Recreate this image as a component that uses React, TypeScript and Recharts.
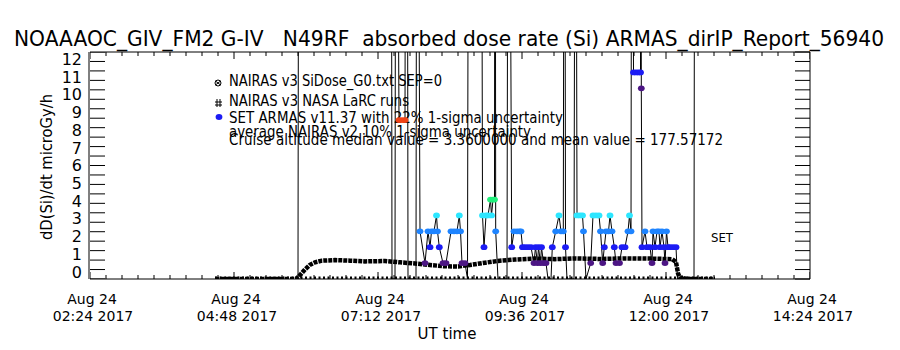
import React from "react";
import { ComposedChart, Line, Scatter, XAxis, YAxis } from "recharts";

const FONT = "'DejaVu Sans', sans-serif";

// x axis is UT minutes of the day, 02:24 .. 14:24
const majorTicks = [144, 288, 432, 576, 720, 864];
const tickDay = ["Aug 24", "Aug 24", "Aug 24", "Aug 24", "Aug 24", "Aug 24"];
const tickTime = ["02:24 2017", "04:48 2017", "07:12 2017", "09:36 2017", "12:00 2017", "14:24 2017"];
const minorTicks = Array.from({ length: 46 }, (_, i) => 144 + i * 16);
const doseTicks = Array.from({ length: 25 }, (_, i) => i * 0.5);
const doseLabels = [0, 1, 2, 3, 4, 5, 6, 7, 8, 9, 10, 11, 12];

// NAIRAS v3 SiDose_G0 model curve
const nairasTimes = [269, 299, 329, 350, 354, 359, 364, 369, 376, 389, 404, 419, 439, 454, 469, 484, 499, 512, 524, 539, 554, 569, 589, 609, 629, 654, 679, 704, 726, 730, 732, 734, 744, 769];
const nairasDose = [0, 0, 0, 0, 0.2, 0.5, 0.75, 0.88, 0.97, 1.0, 0.97, 0.93, 0.95, 0.88, 0.82, 0.74, 0.67, 0.66, 0.74, 0.86, 0.97, 1.03, 1.08, 1.05, 1.09, 1.06, 1.09, 1.08, 1.05, 0.9, 0.3, 0.05, 0, 0];

// NAIRAS v3 NASA LaRC runs
const larcTimes = [269, 769];
const larcDose = [0, 0];

// SET ARMAS samples (values above 12 run off the top of the plot)
const armasTimes = [352, 353, 445, 446, 449, 450, 453, 456, 459, 460, 461, 462, 470, 471, 474, 479, 482, 484, 485.5, 488, 490.5, 491.5, 493.3, 497, 500, 505, 508, 511, 513.3, 514.5, 516, 519, 521.5, 523, 535, 536.5, 538, 540, 542, 544.5, 545.5, 547, 548.5, 549, 549.7, 552, 561, 562.5, 565.7, 568, 571, 573.5, 575, 576.5, 579, 582, 585, 588, 589.5, 591.5, 592.5, 594.5, 595.5, 597.5, 600, 602, 605, 606.3, 609.7, 613, 615, 617.3, 618.5, 619.5, 621, 628, 629.5, 631, 634, 636.5, 637.5, 640, 644.7, 647, 650, 653, 654.5, 656.7, 658.3, 660, 662.5, 664, 666, 668.3, 670, 673.5, 676, 679, 682, 683.5, 685, 686, 687.5, 690, 692.5, 694.5, 695, 695.3, 696, 699, 701, 704, 706, 707, 709, 711, 713, 714, 716, 718, 719, 720.5, 722, 724, 727, 730, 731.5, 748, 749];
const armasDose = [0, 40, 40, 0, 0, 40, 8.4, 8.4, 8.4, 40, 40, 0, 0, 40, 2.52, 0.84, 2.52, 1.68, 2.52, 2.52, 3.36, 2.52, 1.68, 0.84, 0.84, 2.52, 2.52, 2.52, 3.36, 2.52, 0.84, 0.84, 0, 40, 40, 3.36, 1.68, 3.36, 3.36, 4.2, 3.36, 4.2, 4.2, 40, 2.52, 0, 0, 40, 1.68, 2.52, 2.52, 2.52, 2.52, 1.68, 1.68, 1.68, 1.68, 0.84, 1.68, 0.84, 1.68, 0.84, 1.68, 0.84, 0.84, 0, 0, 1.68, 2.52, 3.36, 2.52, 2.52, 40, 1.68, 0, 0, 40, 3.36, 3.36, 3.36, 2.52, 0, 0.84, 3.36, 3.36, 3.36, 2.52, 0.84, 1.68, 2.52, 2.52, 3.36, 2.52, 1.68, 0.84, 0.84, 1.68, 1.68, 2.52, 3.36, 2.52, 40, 10.92, 10.92, 10.92, 10.92, 40, 10.08, 1.68, 2.52, 1.68, 1.68, 0.84, 2.52, 1.68, 2.52, 2.52, 1.68, 2.52, 1.68, 0.84, 2.52, 1.68, 1.68, 1.68, 1.68, 0, 0, 40];
const armasLevels = [0.84, 1.68, 2.52, 3.36, 4.2, 8.4, 10.08, 10.92];
const armasColors = ["#4c1684", "#1c1cf4", "#1e84ff", "#2ce6ff", "#22f07c", "#f04418", "#4c1684", "#1c1cf4"];

const nairas = nairasTimes.map((t, i) => ({ t, v: nairasDose[i] }));
const larc = larcTimes.map((t, i) => ({ t, v: larcDose[i] }));
const armas = armasTimes.map((t, i) => ({ t, v: armasDose[i] }));

// inward tick marks of the frame, placed through the chart scales
const leftMarks = doseTicks.map((v) => ({ t: 144, v }));
const bottomMarks = minorTicks.map((t) => ({ t, v: 0 }));
const topMarks = minorTicks.map((t) => ({ t, v: 12 }));

function LeftMark({ cx, cy }: any) {
  return <path d={`M${cx},${cy}h15`} stroke="#000" fill="none" />;
}

function BottomMark({ cx, cy, payload }: any) {
  return <path d={`M${cx},${cy}v${majorTicks.includes(payload.t) ? -7 : -4}`} stroke="#000" fill="none" />;
}

function TopMark({ cx, cy, payload }: any) {
  return <path d={`M${cx},${cy}v${majorTicks.includes(payload.t) ? 7 : 4}`} stroke="#000" fill="none" />;
}

function BottomLabel({ x, y, payload }: any) {
  const m = majorTicks.indexOf(payload.value);
  if (m < 0) return <g />;
  return (
    <text textAnchor="middle" fontSize={14} fontFamily={FONT} fill="#000">
      <tspan x={x + 2} y={y + 25}>{tickDay[m]}</tspan>
      <tspan x={x + 3} y={y + 42}>{tickTime[m]}</tspan>
    </text>
  );
}

function RightTick({ x, y }: any) {
  return <path d={`M${x},${y}h-15`} stroke="#000" fill="none" />;
}

function LabelTick({ x, y, payload }: any) {
  return (
    <text x={x - 8} y={y} dy="0.36em" textAnchor="end" fontSize={16} fontFamily={FONT} fill="#000">
      {payload.value}
    </text>
  );
}

function ArmasDot(props: any) {
  const { cx, cy, payload, index } = props;
  const i = armasLevels.indexOf(payload.v);
  if (i < 0 || cx == null || cy == null) return <g key={`d${index}`} />;
  return <ellipse key={`d${index}`} cx={cx} cy={cy} rx={3.4} ry={2.9} fill={armasColors[i]} />;
}

function Notes() {
  const t = { fontFamily: FONT, fill: "#000", lengthAdjust: "spacingAndGlyphs" as const };
  return (
    <svg width={900} height={350} style={{ position: "absolute", left: 0, top: 0 }}>
      <text x={14} y={46} fontSize={21} textLength={870} style={{ whiteSpace: "pre" }} {...t}>
        {"NOAAAOC_GIV_FM2 G-IV   N49RF  absorbed dose rate (Si) ARMAS_dirIP_Report_56940"}
      </text>
      <text transform="translate(52,167) rotate(-90)" textAnchor="middle" fontSize={16} textLength={146} {...t}>
        dD(Si)/dt microGy/h
      </text>
      <text x={447} y={339} textAnchor="middle" fontSize={15} {...t}>
        UT time
      </text>
      <circle cx={218} cy={83} r={3} fill="none" stroke="#000" />
      <path d="M215.5,81 L220.5,85 M215.5,85 L220.5,81" stroke="#000" />
      <text x={229} y={86} fontSize={15} textLength={213} {...t}>NAIRAS v3 SiDose_G0.txt SEP=0</text>
      <path d="M215,102 h7 M215,105 h7 M217,99 v8 M220,99 v8" stroke="#000" />
      <text x={229} y={105.5} fontSize={15} textLength={180} {...t}>NAIRAS v3 NASA LaRC runs</text>
      <ellipse cx={219} cy={117} rx={3.4} ry={2.9} fill="#1c1cf4" />
      <text x={229} y={123} fontSize={15} textLength={334} {...t}>SET ARMAS v11.37 with 22% 1-sigma uncertainty</text>
      <text x={229} y={136.5} fontSize={15} textLength={302} {...t}>average NAIRAS v2 10% 1-sigma uncertainty</text>
      <text x={229} y={145} fontSize={15} textLength={494} {...t}>
        Cruise altitude median value = 3.3600000 and mean value = 177.57172
      </text>
      <text x={711} y={242} fontSize={13} textLength={22} {...t}>SET</text>
    </svg>
  );
}

export default function App() {
  return (
    <div style={{ position: "fixed", left: 0, top: 0, width: 900, height: 350, background: "#fff" }}>
      <Notes />
      <div style={{ position: "absolute", left: 0, top: 0 }}>
        <ComposedChart width={900} height={350} margin={{ top: 51, right: 89, bottom: 70, left: 88 }}>
          {/* scale-only axes used by the series */}
          <XAxis xAxisId="b" dataKey="t" type="number" domain={[144, 864]} allowDataOverflow hide height={0} />
          <YAxis yAxisId="v" dataKey="v" type="number" domain={[0, 12]} allowDataOverflow hide width={0} />
          {/* drawn frame */}
          <XAxis xAxisId="bl" dataKey="t" type="number" domain={[144, 864]} allowDataOverflow ticks={majorTicks}
            interval={0} height={1} tickSize={0} tickMargin={0} tickLine={false} tick={BottomLabel} stroke="#000" />
          <XAxis xAxisId="t" orientation="top" dataKey="t" type="number" domain={[144, 864]} allowDataOverflow
            height={1} tickLine={false} tick={false} stroke="#000" />
          <YAxis yAxisId="vl" type="number" domain={[0, 12]} allowDataOverflow width={1} tickLine={false}
            tick={false} stroke="#000" />
          <YAxis yAxisId="r" orientation="right" type="number" domain={[0, 12]} allowDataOverflow ticks={doseTicks}
            interval={0} width={1} tickSize={0} tickMargin={0} tickLine={false} tick={RightTick} stroke="#000" />
          <YAxis yAxisId="lab" type="number" domain={[-0.4, 12.4]} allowDataOverflow ticks={doseLabels} interval={0}
            width={1} tickSize={0} tickMargin={0} tickLine={false} axisLine={false} tick={LabelTick} />
          <Scatter data={leftMarks} xAxisId="b" yAxisId="v" dataKey="v" shape={LeftMark} isAnimationActive={false} />
          <Scatter data={bottomMarks} xAxisId="b" yAxisId="v" dataKey="v" shape={BottomMark} isAnimationActive={false} />
          <Scatter data={topMarks} xAxisId="b" yAxisId="v" dataKey="v" shape={TopMark} isAnimationActive={false} />
          <Line data={larc} dataKey="v" xAxisId="b" yAxisId="v" type="linear" stroke="#000" strokeWidth={5}
            strokeDasharray="2 2.5" dot={false} activeDot={false} isAnimationActive={false} />
          <Line data={nairas} dataKey="v" xAxisId="b" yAxisId="v" type="linear" stroke="#000" strokeWidth={4.5}
            strokeDasharray="4 1" dot={false} activeDot={false} isAnimationActive={false} />
          <Line data={armas} dataKey="v" xAxisId="b" yAxisId="v" type="linear" stroke="#000" strokeWidth={1}
            dot={ArmasDot} activeDot={false} isAnimationActive={false} />
        </ComposedChart>
      </div>
    </div>
  );
}
